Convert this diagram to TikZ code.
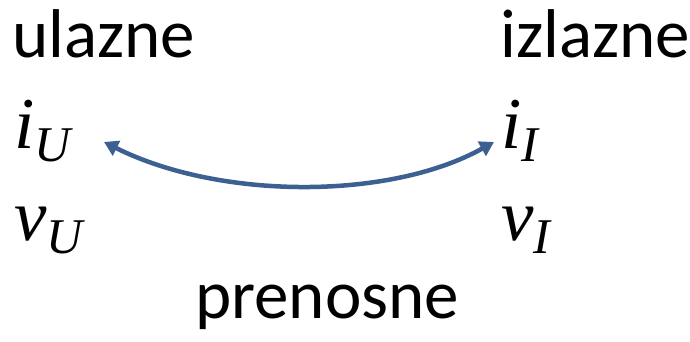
\documentclass[tikz,border=0pt]{standalone}
\usepackage{fontspec}
\usetikzlibrary{arrows.meta}
\setmainfont{Carlito}
\newfontfamily\varfont{Liberation Serif}
\definecolor{arrowblue}{RGB}{60,96,145}
\begin{document}
\begin{tikzpicture}[x=1pt,y=-1pt,
  lbl/.style={anchor=base west,inner sep=0pt,font=\fontsize{69}{80}\selectfont},
  var/.style={anchor=base west,inner sep=0pt,font=\fontsize{73}{80}\selectfont\varfont\itshape},
  link/.style={draw=arrowblue,line width=4.5pt,{Triangle[length=14pt,width=16pt]}-{Triangle[length=14pt,width=16pt]}}]
\useasboundingbox (0,0) rectangle (690,342);
\node[lbl] (ul) at (12,58) {ulazne};
\node[lbl] (iz) at (500,58) {izlazne};
\node[var] (iu) at (14,148) {i\raisebox{-13pt}{\fontsize{50}{54}\selectfont U}};
\node[var] (vu) at (14,240) {v\raisebox{-13pt}{\fontsize{50}{54}\selectfont U}};
\node[var] (ii) at (501,148) {i\raisebox{-13pt}{\fontsize{50}{54}\selectfont I}};
\node[var] (vi) at (501,240) {v\raisebox{-13pt}{\fontsize{50}{54}\selectfont I}};
\node[lbl] (pr) at (195,318) {prenosne};
\coordinate (a) at (104,142);
\coordinate (b) at (494,142);
\draw[link] (a) .. controls (220,200) and (390,200) .. (b);
\end{tikzpicture}
\end{document}
